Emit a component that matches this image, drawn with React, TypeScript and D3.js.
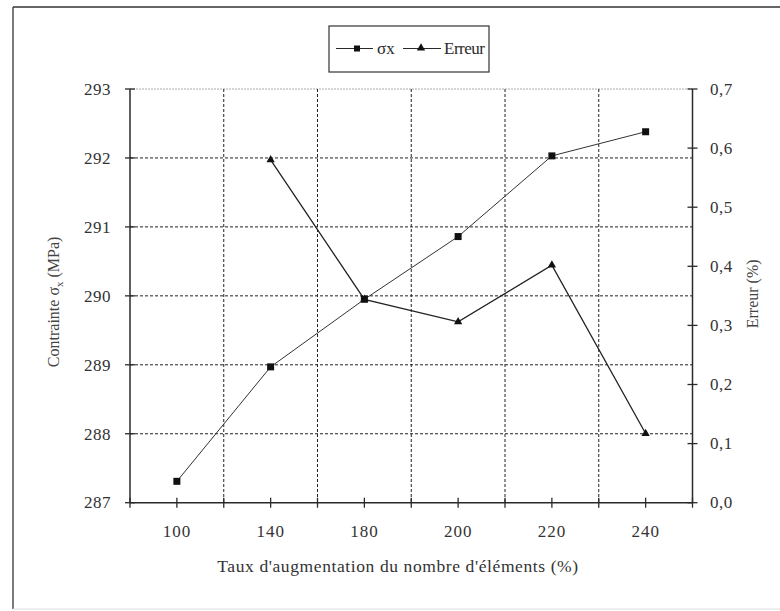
import React from "react";
import * as d3 from "d3";

const categories = ["100", "140", "180", "200", "220", "240"];
const sigmaX = [287.31, 288.97, 289.95, 290.86, 292.03, 292.38];
const erreurCats = ["140", "180", "200", "220", "240"];
const erreur = [0.58, 0.344, 0.306, 0.402, 0.117];
const leftTicks = [287, 288, 289, 290, 291, 292, 293];
const rightTicks = [0, 0.1, 0.2, 0.3, 0.4, 0.5, 0.6, 0.7];

const W = 780, H = 611;
const L = 130, R = 692.5, T = 89, B = 502.7;
const FONT = "Liberation Serif, DejaVu Serif, serif";
const INK = "#2a2a2a";

export default function App() {
  const x = d3.scaleBand<string>().domain(categories).range([L, R]).padding(0);
  const yL = d3.scaleLinear().domain([287, 293]).range([B, T]);
  const yR = d3.scaleLinear().domain([0, 0.7]).range([B, T]);
  const cx = (c: string) => (x(c) as number) + x.bandwidth() / 2;

  const lineS = d3.line<number>().x((_, i) => cx(categories[i])).y((d) => yL(d));
  const lineE = d3.line<number>().x((_, i) => cx(erreurCats[i])).y((d) => yR(d));

  const bounds = categories.map((c) => x(c) as number).concat([R]);
  const xTicks: number[] = [];
  categories.forEach((c) => { xTicks.push(x(c) as number); xTicks.push(cx(c)); });
  xTicks.push(R);

  const tri = d3.symbol().type(d3.symbolTriangle).size(30)();
  const fmt = (v: number) => v.toFixed(1).replace(".", ",");

  return (
    <svg width={W} height={H} style={{ position: "absolute", left: 0, top: 0, background: "#fff", fontFamily: FONT }}>
      {/* outer frame */}
      <line x1={13} y1={7} x2={780} y2={7} stroke="#333" strokeWidth={1.3} />
      <line x1={13} y1={7} x2={13} y2={609} stroke="#333" strokeWidth={1.3} />
      <line x1={13} y1={609} x2={780} y2={609} stroke="#ddd" strokeWidth={1} />

      {/* legend */}
      <rect x={329} y={26} width={160} height={46} fill="none" stroke="#333" strokeWidth={1.2} />
      <line x1={336} y1={48.5} x2={373} y2={48.5} stroke={INK} strokeWidth={1} />
      <rect x={354} y={45.5} width={6} height={6} fill="#111" />
      <text x={377} y={54} fontSize={17} fill={INK}>σx</text>
      <line x1={403} y1={48.5} x2={441} y2={48.5} stroke={INK} strokeWidth={1} />
      <path d={tri as string} transform="translate(421,48)" fill="#111" />
      <text x={444} y={54} fontSize={17} fill={INK} letterSpacing={-0.5}>Erreur</text>

      {/* gridlines */}
      {leftTicks.slice(1, -1).map((t) => (
        <line key={"h" + t} x1={L} x2={R} y1={yL(t)} y2={yL(t)} stroke="#222" strokeWidth={1} strokeDasharray="3,2" />
      ))}
      <line x1={L} x2={R} y1={T} y2={T} stroke="#aaa" strokeWidth={1} strokeDasharray="2,1" />
      {bounds.slice(1, -1).map((b, i) => (
        <line key={"v" + i} x1={b} x2={b} y1={T} y2={B} stroke="#222" strokeWidth={1} strokeDasharray="3,2" />
      ))}

      {/* axes */}
      <line x1={L} x2={L} y1={T} y2={B} stroke={INK} strokeWidth={1.5} />
      <line x1={R} x2={R} y1={T} y2={B} stroke={INK} strokeWidth={1.5} />
      <line x1={L} x2={R} y1={B} y2={B} stroke={INK} strokeWidth={1.5} />
      {leftTicks.map((t) => (
        <g key={"lt" + t}>
          <line x1={L - 5} x2={L + 5} y1={yL(t)} y2={yL(t)} stroke={INK} strokeWidth={1.3} />
          <text x={111} y={yL(t)} dy="0.34em" textAnchor="end" fontSize={17} fill="#333" letterSpacing={0.5}>{t}</text>
        </g>
      ))}
      {rightTicks.map((t) => (
        <g key={"rt" + t}>
          <line x1={R - 5} x2={R + 5} y1={yR(t)} y2={yR(t)} stroke={INK} strokeWidth={1.3} />
          <text x={710} y={yR(t)} dy="0.34em" fontSize={17} fill="#333" letterSpacing={0.5}>{fmt(t)}</text>
        </g>
      ))}
      {xTicks.map((t, i) => (
        <line key={"xt" + i} x1={t} x2={t} y1={B - 5} y2={B + 5} stroke={INK} strokeWidth={1.3} />
      ))}
      {categories.map((c) => (
        <text key={"xl" + c} x={cx(c)} y={537} textAnchor="middle" fontSize={17} fill="#333" letterSpacing={1}>{c}</text>
      ))}

      {/* titles */}
      <text x={398} y={572} textAnchor="middle" fontSize={17.5} fill="#333" letterSpacing={0.6}>
        Taux d'augmentation du nombre d'éléments (%)
      </text>
      <text transform={`translate(59,${(T + B) / 2 + 6}) rotate(-90)`} textAnchor="middle" fontSize={16} fill="#444">
        Contrainte σ<tspan fontSize={11} dy={4}>x</tspan><tspan dy={-4}> (MPa)</tspan>
      </text>
      <text transform={`translate(758,${(T + B) / 2 - 2}) rotate(-90)`} textAnchor="middle" fontSize={16} fill="#444">
        Erreur (%)
      </text>

      {/* series */}
      <path d={lineS(sigmaX) as string} fill="none" stroke="#333" strokeWidth={1} />
      <path d={lineE(erreur) as string} fill="none" stroke="#222" strokeWidth={1.3} />
      {sigmaX.map((v, i) => (
        <rect key={"s" + i} x={cx(categories[i]) - 3.5} y={yL(v) - 3.5} width={7} height={7} fill="#111" />
      ))}
      {erreur.map((v, i) => (
        <path key={"e" + i} d={tri as string} transform={`translate(${cx(erreurCats[i])},${yR(v)})`} fill="#111" />
      ))}
    </svg>
  );
}
